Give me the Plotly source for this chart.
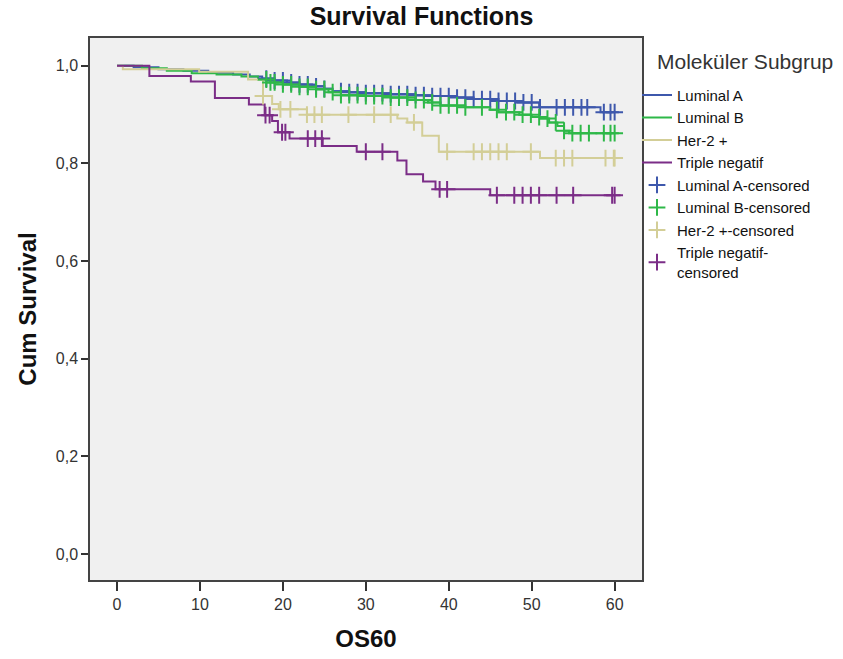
import numpy as np
import plotly.graph_objects as go

# ---- data ----
groups = ["Luminal A", "Luminal B", "Her-2 +", "Triple negatif"]
colors = ["#3E58AC", "#2EB848", "#D3CE97", "#7B2D87"]

# step functions: event times and survival after the step
lumA_t = [0, 2, 5, 8, 11, 14, 16, 17.5, 19, 20.5, 22, 23.5, 25, 26, 28, 30, 33, 36, 38, 41, 43, 46, 48.3, 50.9, 58.3]
lumA_s = [1.0, 0.997, 0.993, 0.99, 0.986, 0.982, 0.978, 0.974, 0.970, 0.966, 0.962, 0.958, 0.953, 0.948, 0.946, 0.944, 0.942, 0.940, 0.938, 0.935, 0.932, 0.928, 0.925, 0.915, 0.905]
lumA_c = [18, 19, 20, 21, 22, 23, 24, 25, 27, 28, 29, 30, 31, 32, 33, 34, 35, 36, 37, 38, 39, 40, 41, 42, 43, 44, 45, 46, 47, 48, 49, 50, 51, 53, 54, 55, 56, 56.7, 58.7, 59.5, 60]

lumB_t = [0, 3, 6, 9, 12, 15, 17, 18.5, 20, 22, 24, 25.5, 27, 30, 33, 36, 37.5, 39, 42, 45, 46, 48.5, 50, 51, 52.1, 53.1, 53.9, 54.5]
lumB_s = [1.0, 0.995, 0.99, 0.985, 0.982, 0.978, 0.972, 0.966, 0.962, 0.957, 0.952, 0.946, 0.940, 0.938, 0.935, 0.930, 0.925, 0.919, 0.915, 0.910, 0.905, 0.900, 0.895, 0.892, 0.884, 0.877, 0.867, 0.862]
lumB_c = [18, 18.5, 19, 20, 21, 22, 23, 24, 25, 26, 27, 28, 29, 30, 31, 32, 33, 34, 35, 36, 37, 38, 39, 40, 41, 42, 44, 45.8, 46.9, 47.9, 48.9, 49.9, 50.9, 51.9, 52.9, 53.9, 54.9, 55.9, 56.9, 58.7, 59.5, 60]

her2_t = [0, 0.7, 9.9, 15.8, 17.6, 18.7, 19.5, 22.9, 33.8, 35.0, 36.8, 38.8, 51.0]
her2_s = [1.0, 0.993, 0.988, 0.972, 0.938, 0.922, 0.911, 0.900, 0.892, 0.884, 0.857, 0.824, 0.811]
her2_c = [17.6, 19.7, 20.9, 22.9, 23.8, 24.7, 27.9, 31, 33, 35.8, 39.8, 43, 44, 45, 46, 47, 49.9, 52.9, 53.9, 54.9, 58.9, 59.9, 60]

tn_t = [0, 3.9, 8.9, 11.8, 15.9, 17.8, 18.7, 19.4, 20.8, 24.8, 28.9, 33.8, 34.9, 36.9, 38.4, 45.0]
tn_s = [1.0, 0.979, 0.968, 0.934, 0.921, 0.899, 0.887, 0.864, 0.851, 0.836, 0.824, 0.806, 0.778, 0.763, 0.747, 0.735]
tn_c = [17.9, 18.4, 19.9, 20.3, 23.0, 23.9, 24.7, 30.0, 32.0, 38.9, 39.8, 45.8, 47.9, 48.9, 49.9, 50.9, 53.0, 55.0, 59.7, 60]

t_end = 60
x_ticks = [0, 10, 20, 30, 40, 50, 60]
y_ticks = [0.0, 0.2, 0.4, 0.6, 0.8, 1.0]
y_ticktext = ["0,0", "0,2", "0,4", "0,6", "0,8", "1,0"]

series = [(lumA_t, lumA_s, lumA_c), (lumB_t, lumB_s, lumB_c), (her2_t, her2_s, her2_c), (tn_t, tn_s, tn_c)]

FONT = "Liberation Sans, Arial, sans-serif"
fig = go.Figure()


def step_value(ts, ss, t):
    i = np.searchsorted(np.array(ts), t, side="right") - 1
    return ss[max(i, 0)]


for name, col, (ts, ss, cs) in zip(groups, colors, series):
    x = list(ts) + [t_end]
    y = list(ss) + [ss[-1]]
    fig.add_trace(go.Scatter(x=x, y=y, mode="lines", line=dict(shape="hv", color=col, width=2),
                             name=name, legendrank=1))

for name, col, (ts, ss, cs) in zip(groups, colors, series):
    cy = [step_value(ts, ss, c) for c in cs]
    lbl = name + "-censored" if name != "Triple negatif" else "Triple negatif-<br>censored"
    fig.add_trace(go.Scatter(x=cs, y=cy, mode="markers",
                             marker=dict(symbol="cross-thin", size=12, line=dict(color=col, width=2), color=col),
                             name=lbl, legendrank=2))

PLOT_L, PLOT_T, PLOT_W, PLOT_H = 90, 38, 552, 542

fig.update_layout(
    width=843, height=659,
    margin=dict(l=90, r=201, t=38, b=79),
    paper_bgcolor="white", plot_bgcolor="#F0F0F0",
    font=dict(family=FONT, size=15, color="#222"),
    title=dict(text="<b>Survival Functions</b>", x=0.5, xanchor="center", y=0.975, yanchor="middle",
               font=dict(size=25, color="#111")),
    showlegend=True,
    legend=dict(x=1 - 5 / PLOT_W, xanchor="left", y=0.925, yanchor="top", bgcolor="rgba(0,0,0,0)",
                font=dict(size=15, color="#111"), tracegroupgap=0, itemwidth=30),
    annotations=[dict(text="Moleküler Subgrup", xref="paper", yref="paper",
                      x=(655 - PLOT_L) / PLOT_W, y=1 - (62 - PLOT_T) / PLOT_H,
                      xanchor="left", yanchor="middle",
                      showarrow=False, font=dict(size=21, color="#333"))],
)

fig.update_xaxes(range=[-3.26, 63.3], tickvals=x_ticks, ticks="outside", ticklen=9, tickwidth=2,
                 tickcolor="#333", showgrid=False, zeroline=False, showline=True, linecolor="#444",
                 linewidth=1.5, mirror=True, tickfont=dict(size=16, color="#333"),
                 title=dict(text="<b>OS60</b>", font=dict(size=24, color="#111"), standoff=18))
fig.update_yaxes(range=[-0.053, 1.057], tickvals=y_ticks, ticktext=y_ticktext, ticks="outside", ticklen=7,
                 tickwidth=2, tickcolor="#333", showgrid=False, zeroline=False, showline=True,
                 linecolor="#444", linewidth=1.5, mirror=True, tickfont=dict(size=16, color="#333"),
                 title=dict(text="<b>Cum Survival</b>", font=dict(size=24, color="#111"), standoff=12))

fig.write_html("out.html")
